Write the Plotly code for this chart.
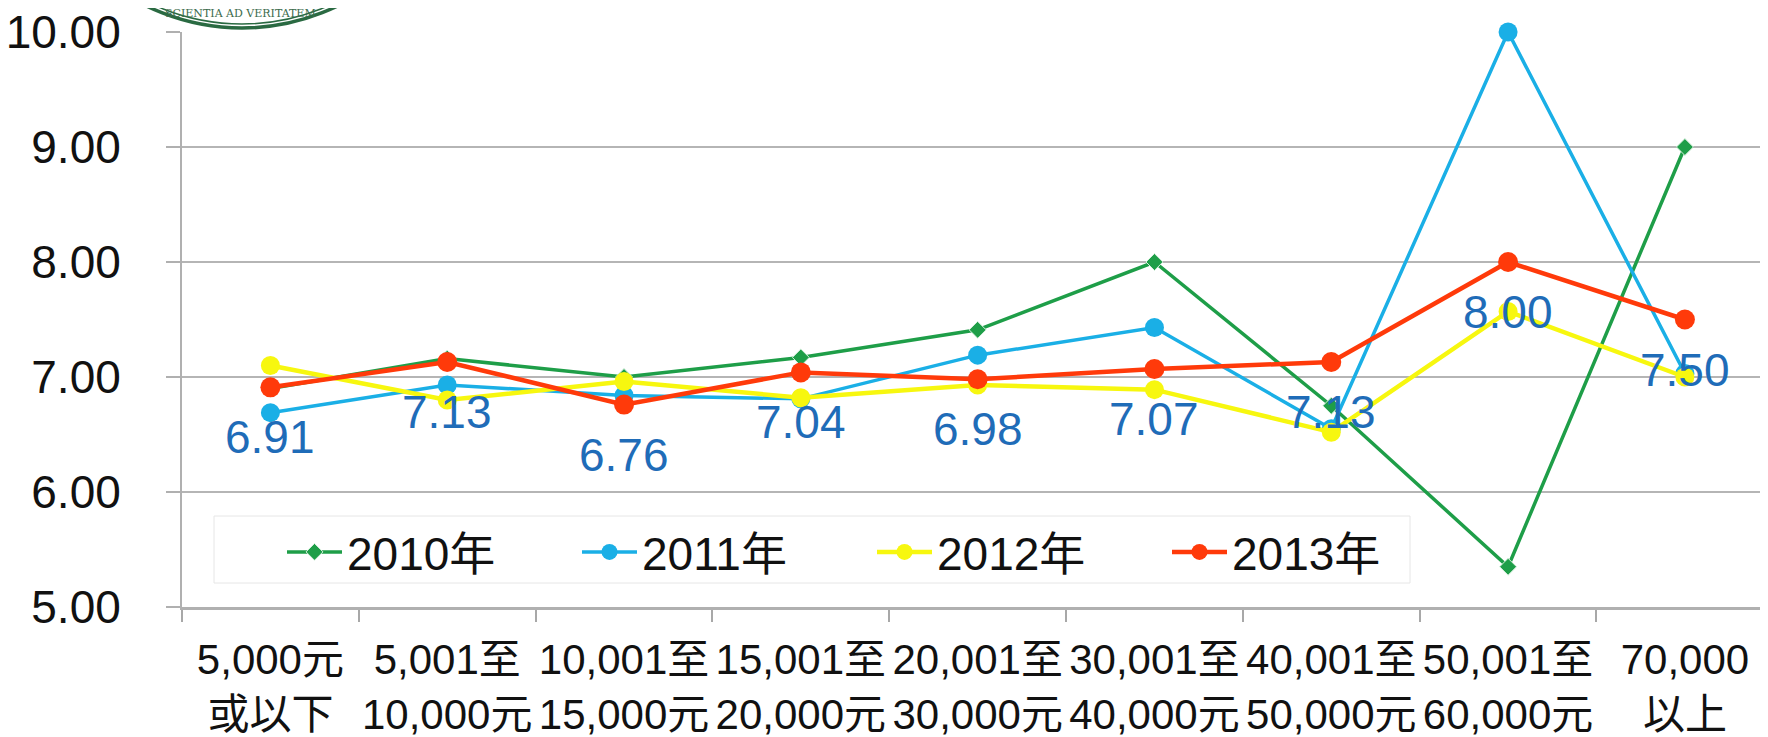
import plotly.graph_objects as go

categories = ["5,000元<br>或以下", "5,001至<br>10,000元", "10,001至<br>15,000元",
              "15,001至<br>20,000元", "20,001至<br>30,000元", "30,001至<br>40,000元",
              "40,001至<br>50,000元", "50,001至<br>60,000元", "70,000<br>以上"]

series_names = ["2010年", "2011年", "2012年", "2013年"]
y2010 = [6.90, 7.16, 7.00, 7.17, 7.41, 8.00, 6.75, 5.35, 9.00]
y2011 = [6.69, 6.93, 6.84, 6.81, 7.19, 7.43, 6.55, 10.00, 7.03]
y2012 = [7.10, 6.80, 6.96, 6.82, 6.93, 6.89, 6.52, 7.57, 7.00]
y2013 = [6.91, 7.13, 6.76, 7.04, 6.98, 7.07, 7.13, 8.00, 7.50]

y_ticks = [5, 6, 7, 8, 9, 10]

FONT = "Liberation Sans, Arial, Noto Sans CJK TC, sans-serif"

fig = go.Figure()

fig.add_trace(go.Scatter(
    x=categories, y=y2010, name=series_names[0], mode="lines+markers",
    line=dict(color="#1E9E48", width=3.5),
    marker=dict(symbol="diamond", size=13, color="#1E9E48", line=dict(color="#d8f0de", width=1)),
    cliponaxis=False))
fig.add_trace(go.Scatter(
    x=categories, y=y2011, name=series_names[1], mode="lines+markers",
    line=dict(color="#1AAFE6", width=3.5),
    marker=dict(symbol="circle", size=19, color="#1AAFE6"),
    cliponaxis=False))
fig.add_trace(go.Scatter(
    x=categories, y=y2012, name=series_names[2], mode="lines+markers",
    line=dict(color="#F7F70F", width=4.5),
    marker=dict(symbol="circle", size=19, color="#F7F70F"),
    cliponaxis=False))
fig.add_trace(go.Scatter(
    x=categories, y=y2013, name=series_names[3], mode="lines+markers",
    line=dict(color="#FF3A0A", width=4.5),
    marker=dict(symbol="circle", size=20, color="#FF3A0A"),
    cliponaxis=False))

annotations = []
for c, v in zip(categories, y2013):
    annotations.append(dict(
        x=c, y=v, xref="x", yref="y", text=f"{v:.2f}", showarrow=False,
        yshift=-50, xanchor="center", yanchor="middle",
        font=dict(family=FONT, size=46, color="#1F6CB8")))

# page coordinates of the plot area (page body has an 8px margin)
OFF = 8
PLOT_L, PLOT_R, PLOT_T, PLOT_B = 182, 1768, 32, 607
def px(xp):
    return (xp - PLOT_L) / (PLOT_R - PLOT_L)
def py(yp):
    return (PLOT_B - yp) / (PLOT_B - PLOT_T)

shapes = []
for r, w in [(218, 3.5), (214, 1.5)]:
    cx, cy = 242, -190
    shapes.append(dict(type="circle", xref="paper", yref="paper",
                       x0=px(cx - r), x1=px(cx + r), y0=py(cy + r), y1=py(cy - r),
                       line=dict(color="#2A6A42", width=w)))
annotations.append(dict(x=px(240), y=py(13), xref="paper", yref="paper",
                        xanchor="center", yanchor="middle",
                        text="SCIENTIA AD VERITATEM", showarrow=False,
                        font=dict(family="DejaVu Serif", size=11, color="#3C6B4C")))

# legend box
shapes.append(dict(type="rect", xref="paper", yref="paper",
                   x0=px(214), x1=px(1410), y0=py(583), y1=py(516),
                   line=dict(color="#E6E6E6", width=1), fillcolor="white", layer="below"))

fig.update_layout(
    width=1768 - OFF, height=737 - OFF,
    margin=dict(l=PLOT_L - OFF, r=0, t=PLOT_T - OFF, b=737 - PLOT_B, pad=0, autoexpand=False),
    plot_bgcolor="white", paper_bgcolor="white",
    font=dict(family=FONT, color="#111111"),
    showlegend=True,
    legend=dict(orientation="h", x=px(282), xanchor="left", y=py(552), yanchor="middle",
                font=dict(family=FONT, size=46, color="#111111"),
                bgcolor="rgba(0,0,0,0)", borderwidth=0,
                itemwidth=55, entrywidth=225, entrywidthmode="pixels",
                traceorder="normal"),
    annotations=annotations,
    shapes=shapes,
)

fig.update_xaxes(
    type="category", range=[-0.5, 8.47], automargin=False, tickangle=0,
    tickson="boundaries", ticks="outside", ticklen=12, tickwidth=2, tickcolor="#A8A8A8",
    showline=True, linecolor="#B0B0B0", linewidth=3, showgrid=False,
    ticklabelstandoff=14, ticklabeloverflow="allow",
    tickfont=dict(family=FONT, size=42, color="#111111"))

fig.update_yaxes(
    range=[5, 10], tickvals=y_ticks, tickformat=".2f", automargin=False,
    showgrid=True, gridcolor="#B5B5B5", gridwidth=2, zeroline=False,
    ticks="outside", ticklen=14, tickwidth=2, tickcolor="#B0B0B0",
    showline=True, linecolor="#B0B0B0", linewidth=2,
    ticklabelstandoff=36, ticklabeloverflow="allow",
    tickfont=dict(family=FONT, size=46, color="#111111"))

fig.write_html("out.html")
